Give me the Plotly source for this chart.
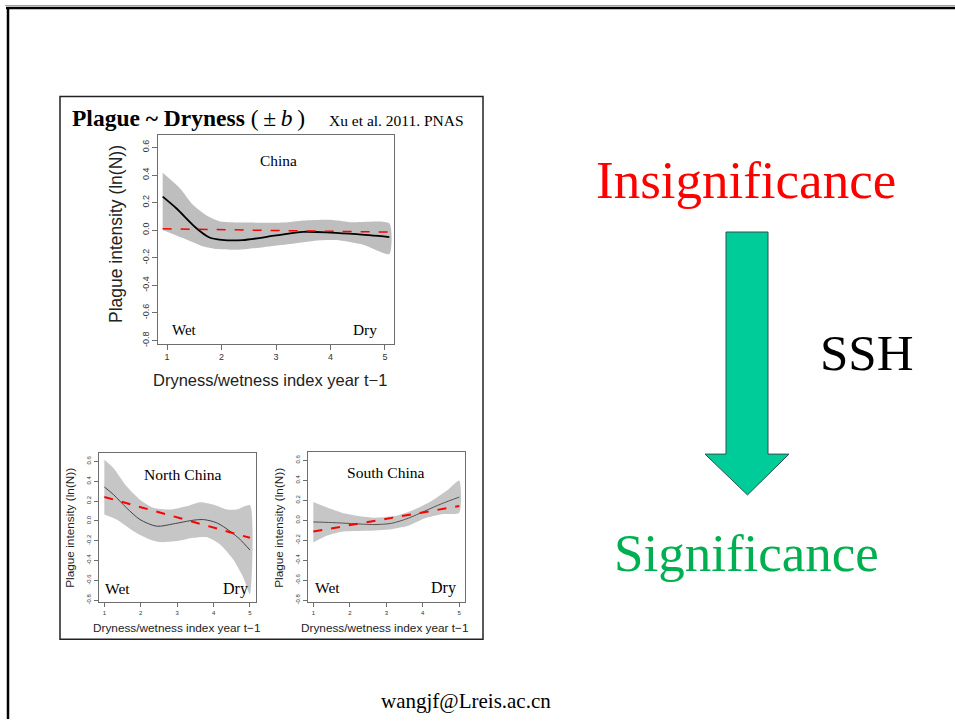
import plotly.graph_objects as go

W, H = 955, 722

# ---------------- data ----------------
x_ticks = [1, 2, 3, 4, 5]
y_ticks = [-0.8, -0.6, -0.4, -0.2, 0.0, 0.2, 0.4, 0.6]
y_tick_text = ["-0.8", "-0.6", "-0.4", "-0.2", "0.0", "0.2", "0.4", "0.6"]

# China
china_fit_x = [0.92, 1.17, 1.54, 1.78, 2.0, 2.39, 3.0, 3.5, 4.0, 4.48, 5.08]
china_fit_y = [0.243, 0.159, 0.014, -0.053, -0.07, -0.072, -0.038, -0.012, -0.017, -0.029, -0.05]
china_up_x = [0.92, 1.24, 1.48, 1.76, 1.98, 2.53, 3.14, 3.5, 4.0, 4.36, 5.08]
china_up_y = [0.416, 0.303, 0.183, 0.099, 0.063, 0.055, 0.055, 0.07, 0.075, 0.058, 0.05]
china_lo_x = [0.92, 1.3, 1.67, 1.92, 2.28, 2.77, 3.26, 3.75, 4.11, 4.6, 5.08]
china_lo_y = [0.002, -0.058, -0.118, -0.137, -0.142, -0.123, -0.101, -0.075, -0.072, -0.106, -0.173]
china_lin_x = [0.92, 5.08]
china_lin_y = [0.01, -0.014]

# North China
north_fit_x = [1.0, 1.25, 1.61, 1.98, 2.44, 2.9, 3.45, 3.72, 4.09, 4.45, 4.73, 5.0]
north_fit_y = [0.342, 0.265, 0.131, 0.013, -0.054, -0.03, 0.007, 0.013, -0.02, -0.104, -0.188, -0.295]
north_up_x = [1.0, 1.25, 1.61, 1.98, 2.35, 2.8, 3.26, 3.63, 3.99, 4.36, 4.64, 5.0]
north_up_y = [0.616, 0.533, 0.348, 0.214, 0.131, 0.114, 0.147, 0.188, 0.164, 0.114, 0.114, 0.157]
north_lo_x = [1.0, 1.34, 1.8, 2.25, 2.53, 2.99, 3.45, 3.81, 4.18, 4.54, 4.82, 5.0]
north_lo_y = [0.064, 0.013, -0.104, -0.188, -0.214, -0.204, -0.171, -0.164, -0.238, -0.389, -0.573, -0.74]
north_lin_x = [1.0, 5.0]
north_lin_y = [0.241, -0.171]

# South China
south_fit_x = [1.0, 1.5, 2.05, 2.69, 3.15, 3.6, 4.06, 4.52, 5.0]
south_fit_y = [-0.017, -0.023, -0.033, -0.043, -0.03, 0.02, 0.093, 0.166, 0.232]
south_up_x = [1.0, 1.32, 1.78, 2.23, 2.69, 3.33, 3.79, 4.24, 4.7, 5.0]
south_up_y = [0.182, 0.136, 0.076, 0.043, 0.026, 0.05, 0.109, 0.192, 0.308, 0.397]
south_lo_x = [1.0, 1.32, 1.78, 2.42, 3.15, 3.6, 4.06, 4.52, 5.0]
south_lo_y = [-0.222, -0.162, -0.116, -0.106, -0.089, -0.056, 0.02, 0.06, 0.076]
south_lin_x = [1.0, 5.0]
south_lin_y = [-0.113, 0.142]

# ---------------- helpers ----------------
def PX(px):
    return px / W

def PY(py):
    return 1 - py / H

SERIF = "Liberation Serif, Times New Roman, serif"
SANS = "Liberation Sans, Arial, sans-serif"

fig = go.Figure()

panels = [
    ("x", "y", china_up_x, china_up_y, china_lo_x, china_lo_y, china_fit_x, china_fit_y,
     china_lin_x, china_lin_y, "#BEBEBE", "#000000", 1.8, 1.5),
    ("x2", "y2", north_up_x, north_up_y, north_lo_x, north_lo_y, north_fit_x, north_fit_y,
     north_lin_x, north_lin_y, "#C6C6C6", "#444444", 1.0, 2.0),
    ("x3", "y3", south_up_x, south_up_y, south_lo_x, south_lo_y, south_fit_x, south_fit_y,
     south_lin_x, south_lin_y, "#C6C6C6", "#555555", 1.0, 2.0),
]

for xa, ya, ux, uy, lx, ly, fx, fy, rx, ry, bandc, linec, lw, rw in panels:
    fig.add_trace(go.Scatter(
        x=ux + lx[::-1], y=uy + ly[::-1], xaxis=xa, yaxis=ya,
        fill="toself", fillcolor=bandc, line=dict(width=0, shape="spline", smoothing=0.6),
        mode="lines", hoverinfo="skip", showlegend=False))
    fig.add_trace(go.Scatter(
        x=fx, y=fy, xaxis=xa, yaxis=ya, mode="lines",
        line=dict(color=linec, width=lw, shape="spline", smoothing=0.8), showlegend=False))
    fig.add_trace(go.Scatter(
        x=rx, y=ry, xaxis=xa, yaxis=ya, mode="lines",
        line=dict(color="#FF0000", width=rw, dash="dash"), showlegend=False))

# axes geometry (pixels)
X_RANGE = [0.84, 5.16]
Y_RANGE = [-0.822, 0.687]
axes_geo = {
    "": dict(x0=158.3, x1=393.7, y0=136.0, y1=345.0, tf=9, tl=5),
    "2": dict(x0=98.5, x1=255.8, y0=454.6, y1=604.9, tf=6, tl=4),
    "3": dict(x0=307.5, x1=465.1, y0=453.5, y1=604.9, tf=6, tl=4),
}

layout_axes = {}
for k, g in axes_geo.items():
    common = dict(showline=True, mirror=True, linecolor="#6E6E6E", linewidth=1,
                  showgrid=False, zeroline=False, ticks="outside", ticklen=g["tl"],
                  tickcolor="#6E6E6E", tickfont=dict(family=SANS, size=g["tf"], color="#333333"))
    layout_axes["xaxis" + k] = dict(domain=[PX(g["x0"]), PX(g["x1"])], range=X_RANGE,
                                    anchor="y" + k, tickvals=x_ticks, **common)
    layout_axes["yaxis" + k] = dict(domain=[PY(g["y1"]), PY(g["y0"])], range=Y_RANGE,
                                    anchor="x" + k, tickvals=y_ticks, ticktext=y_tick_text,
                                    tickangle=-90, **common)

annotations = []

def text(px, py, s, size, family=SERIF, color="#000000", angle=0, xanchor="center"):
    annotations.append(dict(x=PX(px), y=PY(py), xref="paper", yref="paper", text=s,
                            showarrow=False, xanchor=xanchor, yanchor="middle",
                            textangle=angle, font=dict(family=family, size=size, color=color)))

# figure panel title
text(70, 118, "<b>Plague ~ Dryness</b> (\u2009±\u2009<i>b</i>\u2009)", 23.5, xanchor="left")
text(327, 121, "Xu et al. 2011. PNAS", 15.5, xanchor="left")

# top panel labels
text(278, 161, "China", 15.4)
text(184, 331, "Wet", 15)
text(365, 331, "Dry", 15.4)
text(116, 235, "Plague intensity (ln(N))", 17.5, family=SANS, color="#222222", angle=-90)
text(270, 382, "Dryness/wetness index year t\u22121", 16.5, family=SANS, color="#222222")

# north china labels
text(182.5, 476, "North China", 15.6)
text(117.5, 591, "Wet", 15.5)
text(235.5, 591, "Dry", 16)
text(70, 530, "Plague intensity (ln(N))", 11.8, family=SANS, color="#222222", angle=-90)
text(177, 631, "Dryness/wetness index year t\u22121", 11.8, family=SANS, color="#222222")

# south china labels
text(385.5, 474, "South China", 15.6)
text(327, 590, "Wet", 15.5)
text(443.7, 590, "Dry", 16)
text(279, 530, "Plague intensity (ln(N))", 11.8, family=SANS, color="#222222", angle=-90)
text(385, 631, "Dryness/wetness index year t\u22121", 11.8, family=SANS, color="#222222")

# right side
text(746, 181, "Insignificance", 53, color="#FF0000")
text(867, 354, "SSH", 51, color="#000000")
text(746, 555, "Significance", 53, color="#00B050")

# footer
text(466, 704, "wangjf@Lreis.ac.cn", 21)

shapes = []
# slide border
shapes.append(dict(type="line", xref="paper", yref="paper", x0=PX(6), x1=PX(955), y0=PY(8), y1=PY(8),
                   line=dict(color="#000000", width=2.5)))
shapes.append(dict(type="line", xref="paper", yref="paper", x0=PX(5), x1=PX(955), y0=PY(5.5), y1=PY(5.5),
                   line=dict(color="#A0A0A0", width=1)))
shapes.append(dict(type="line", xref="paper", yref="paper", x0=PX(8), x1=PX(8), y0=PY(7), y1=PY(722),
                   line=dict(color="#000000", width=2.5)))
# figure panel frame
shapes.append(dict(type="rect", xref="paper", yref="paper", x0=PX(60), x1=PX(483), y0=PY(642), y1=PY(97),
                   line=dict(color="#222222", width=1.5)))

# arrow
pts = [(726, 233), (768, 233), (768, 456), (789, 456), (747.5, 497), (705, 456), (726, 456)]
path = "M " + " L ".join(f"{PX(a):.5f},{PY(b):.5f}" for a, b in pts) + " Z"
shapes.append(dict(type="path", xref="paper", yref="paper", path=path,
                   fillcolor="#00CC99", line=dict(color="#2F4F4F", width=1)))

fig.update_layout(
    width=W, height=H, margin=dict(l=0, r=0, t=0, b=0),
    paper_bgcolor="#FFFFFF", plot_bgcolor="#FFFFFF",
    showlegend=False, annotations=annotations, shapes=shapes,
    **layout_axes,
)

fig.write_html("out.html")
